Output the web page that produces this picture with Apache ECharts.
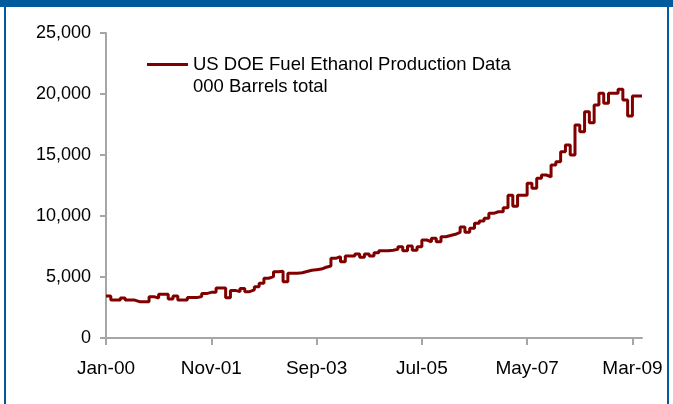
<!DOCTYPE html>
<html>
<head>
<meta charset="utf-8">
<script src="https://cdn.jsdelivr.net/npm/echarts@6/dist/echarts.min.js"></script>
<style>
html,body{margin:0;padding:0;background:#fff;}
#chart{width:673px;height:404px;}
</style>
</head>
<body>
<div id="chart"></div>
<script>
var monthNames = ['Jan','Feb','Mar','Apr','May','Jun','Jul','Aug','Sep','Oct','Nov','Dec'];
var startYear = 2000, monthCount = 113; // Jan-00 .. May-09
var tickLabels = ['Jan-00','Nov-01','Sep-03','Jul-05','May-07','Mar-09'];
var yTicks = [0, 5000, 10000, 15000, 20000, 25000];
var seriesName = 'US DOE Fuel Ethanol Production Data\n000 Barrels total';
var production = [
  3440,3110,3110,3280,3110,3110,2980,2980,2980,3390,3280,3580,
  3580,3190,3440,3110,3110,3310,3310,3400,3640,3740,3740,4100,
  4100,3300,3900,3800,4050,3800,3950,4200,4480,4900,5030,5430,
  5480,4620,5300,5300,5350,5450,5550,5600,5650,5800,5900,6530,
  6670,6250,6720,6720,6890,6610,6890,6720,6990,7160,7160,7200,
  7270,7480,7160,7540,7200,7480,8030,7890,8170,7890,8300,8400,
  8500,8660,9100,8660,8990,9400,9590,9810,10220,10350,10350,10680,
  11700,10800,11700,11700,12680,12270,13090,13360,13200,14180,14450,15270,
  15820,15000,17460,16910,18550,17650,19100,20060,19240,20060,20060,20380,
  19510,18200,19840,19840,19840
];

var categories = [];
for (var i = 0; i < monthCount; i++) {
  var y = startYear + Math.floor(i / 12);
  categories.push(monthNames[i % 12] + '-' + String(y % 100).padStart(2, '0'));
}

var font = 'Liberation Sans, Arial, sans-serif';
var axisGray = '#A6A6A6';
var lineColor = '#800000';
var chart = echarts.init(document.getElementById('chart'));
chart.setOption({
  animation: false,
  backgroundColor: '#fff',
  grid: {left: 106, right: 31, top: 33, bottom: 66, containLabel: false},
  legend: {
    show: true,
    left: 147, top: 53.5,
    padding: 0,
    itemWidth: 41, itemHeight: 44,
    icon: 'path://M0,0h0.01v0.01h-0.01z M0,9.5h41v3h-41z M0,44h0.01v0.01h-0.01z',
    data: [seriesName],
    textStyle: {fontFamily: font, fontSize: 18.5, color: '#000', lineHeight: 22}
  },
  xAxis: {
    type: 'category',
    data: categories,
    boundaryGap: false,
    axisLine: {lineStyle: {color: axisGray, width: 2}},
    axisTick: {show: true, length: 7, interval: 21, lineStyle: {color: axisGray, width: 2}},
    axisLabel: {
      interval: function (idx, val) { return tickLabels.indexOf(val) >= 0; },
      fontFamily: font, fontSize: 19, color: '#000', margin: 21
    },
    splitLine: {show: false}
  },
  yAxis: {
    type: 'value',
    min: yTicks[0], max: yTicks[yTicks.length - 1], interval: 5000,
    axisLine: {show: true, lineStyle: {color: axisGray, width: 2}},
    axisTick: {show: true, length: 6, lineStyle: {color: axisGray, width: 2}},
    axisLabel: {
      fontFamily: font, fontSize: 18, color: '#000', margin: 15,
      formatter: function (v) { return v.toLocaleString('en-US'); }
    },
    splitLine: {show: false}
  },
  series: [{
    name: seriesName,
    type: 'line',
    step: 'end',
    data: production,
    showSymbol: false,
    symbol: 'none',
    lineStyle: {color: lineColor, width: 3},
    itemStyle: {color: lineColor}
  }],
  graphic: [
    {type: 'rect', shape: {x: 0, y: 0, width: 673, height: 7}, style: {fill: '#005A9C'}, silent: true},
    {type: 'rect', shape: {x: 4, y: 0, width: 2, height: 404}, style: {fill: '#005A9C'}, silent: true},
    {type: 'rect', shape: {x: 667, y: 0, width: 2, height: 404}, style: {fill: '#005A9C'}, silent: true}
  ]
});
</script>
</body>
</html>
